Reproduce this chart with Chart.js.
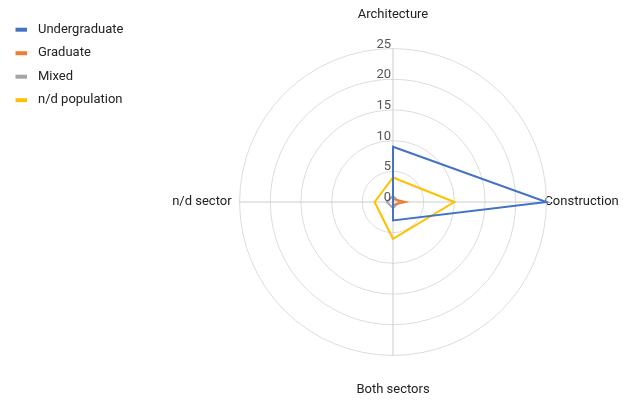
<!DOCTYPE html>
<html>
<head>
<meta charset="utf-8">
<script src="https://cdn.jsdelivr.net/npm/chart.js@4/dist/chart.umd.min.js"></script>
<style>
  html, body { margin: 0; padding: 0; background: #fff; }
  #wrap { width: 623px; height: 401px; }
</style>
</head>
<body>
<div id="wrap"><canvas id="myChart"></canvas></div>
<script>
const categories = ["Architecture", "Construction", "Both sectors", "n/d sector"];
const undergraduate = [9, 25, 3, 0];
const graduate = [0.5, 2, 0.5, 0];
const mixed = [1, 1, 1, 1];
const ndPopulation = [4, 10, 6, 3];
const tickValues = [0, 5, 10, 15, 20, 25];
const colors = ["#4472C4", "#ED7D31", "#A5A5A5", "#FFC000"];

// gap between ring and each point label (top, right, bottom, left)
const labelPadding = [26, -2, 27, 8];
const legendWidth = 164;
const legendBox = 16;   // box is wider than the drawn mark so text sits further right
const legendMark = 11;

const line = (label, values, color) => ({
  label,
  data: values,
  borderColor: color,
  backgroundColor: color,
  borderWidth: 2,
  pointRadius: 0,
  fill: false,
});

const data = {
  labels: categories,
  datasets: [
    line("Undergraduate", undergraduate, colors[0]),
    line("Graduate", graduate, colors[1]),
    line("Mixed", mixed, colors[2]),
    line("n/d population", ndPopulation, colors[3]),
  ],
};

// tick labels sit left of the vertical axis, just above each ring
const tickLabels = {
  id: "tickLabels",
  afterDraw(chart) {
    const s = chart.scales.r;
    const ctx = chart.ctx;
    ctx.save();
    ctx.font = "13px Roboto";
    ctx.fillStyle = "#555";
    ctx.textAlign = "right";
    ctx.textBaseline = "alphabetic";
    tickValues.forEach((v) => {
      const y = s.yCenter - s.getDistanceFromCenterForValue(v);
      ctx.fillText(String(v), s.xCenter - 2, y - 1);
    });
    ctx.restore();
  },
};

// legend keeps a fixed width so the radar sits where it should
const wideLegend = {
  id: "wideLegend",
  beforeLayout(chart) {
    const lg = chart.legend;
    if (lg && !lg._wide) {
      const fit = lg.fit.bind(lg);
      lg.fit = function () {
        fit();
        this.width = legendWidth;
      };
      lg._wide = true;
    }
  },
};

const config = {
  type: "radar",
  data,
  options: {
    maintainAspectRatio: false,
    animation: false,
    layout: {
      padding: { left: 5, top: 8, right: 0, bottom: 2 },
    },
    scales: {
      r: {
        min: 0,
        max: 25,
        ticks: {
          stepSize: 5,
          display: false,
        },
        grid: {
          circular: true,
          color: "#dcdcdc",
        },
        angleLines: {
          color: "#cccccc",
        },
        pointLabels: {
          color: "#222",
          font: { family: "Roboto", size: 13 },
          padding: (ctx) => labelPadding[ctx.index],
        },
      },
    },
    plugins: {
      legend: {
        position: "left",
        align: "start",
        title: {
          display: true,
          text: " ",
          font: { size: 1 },
          padding: { top: 3.5, bottom: 0 },
        },
        labels: {
          boxWidth: legendBox,
          boxHeight: 4,
          padding: 10.5,
          color: "#222",
          font: { family: "Roboto", size: 13 },
          generateLabels(chart) {
            const items = Chart.defaults.plugins.legend.labels.generateLabels(chart);
            const x0 = 16;
            items.forEach((it, i) => {
              const g = chart.ctx.createLinearGradient(x0, 0, x0 + legendBox, 0);
              g.addColorStop(0, colors[i]);
              g.addColorStop(legendMark / legendBox, colors[i]);
              g.addColorStop(legendMark / legendBox, "rgba(255,255,255,0)");
              g.addColorStop(1, "rgba(255,255,255,0)");
              it.fillStyle = g;
              it.lineWidth = 0;
            });
            return items;
          },
        },
      },
      tooltip: { enabled: false },
    },
  },
  plugins: [tickLabels, wideLegend],
};

const myChart = new Chart(document.getElementById("myChart"), config);
</script>
</body>
</html>
